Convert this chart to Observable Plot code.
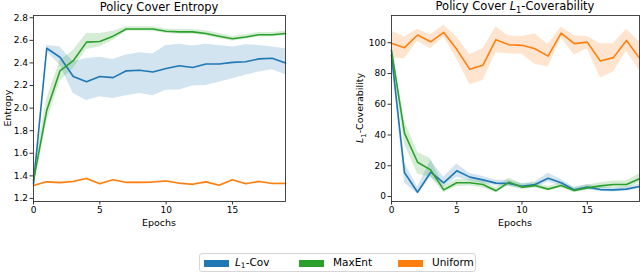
<!DOCTYPE html>
<html>
<head>
<meta charset="utf-8">
<script src="https://cdn.jsdelivr.net/npm/d3@7"></script>
<script src="https://cdn.jsdelivr.net/npm/@observablehq/plot@0.6"></script>
<style>
  html, body { margin: 0; padding: 0; background: #fff; }
  #root { position: relative; width: 640px; height: 275px; font-family: "DejaVu Sans", sans-serif; color: #000; overflow: hidden; }
  .abs { position: absolute; white-space: nowrap; }
  .title { font-size: 11.5px; transform: translate(-50%, -50%); }
  .xlab { font-size: 9.5px; transform: translate(-50%, -50%); }
  .ylab { font-size: 9.5px; transform: translate(-50%, -50%) rotate(-90deg); }
  .sub { font-size: 0.72em; vertical-align: -0.3em; }
  #legend { position: absolute; left: 199px; top: 253px; width: 277px; height: 19px; border: 1px solid #d6d6d6; border-radius: 3px; box-sizing: border-box; font-size: 10.5px; }
  .sw { position: absolute; top: 5.5px; width: 25px; height: 7px; }
  .lt { position: absolute; top: 2px; }
</style>
</head>
<body>
<div id="root"></div>
<script>
// ---------- data ----------
const epochs = [0,1,2,3,4,5,6,7,8,9,10,11,12,13,14,15,16,17,18,19];

// Left panel: Policy Cover Entropy
const entCovMean = [1.33,2.53,2.45,2.28,2.234,2.28,2.27,2.33,2.335,2.32,2.35,2.375,2.36,2.39,2.39,2.405,2.41,2.436,2.442,2.40];
const entCovLo   = [1.31,2.50,2.38,2.13,2.068,2.10,2.085,2.11,2.13,2.11,2.157,2.16,2.195,2.20,2.23,2.26,2.29,2.32,2.34,2.295];
const entCovHi   = [1.35,2.555,2.54,2.41,2.44,2.45,2.43,2.47,2.49,2.48,2.555,2.565,2.55,2.565,2.555,2.54,2.56,2.555,2.54,2.525];

const entMaxMean = [1.36,1.98,2.33,2.42,2.584,2.59,2.637,2.70,2.70,2.70,2.68,2.675,2.675,2.66,2.637,2.614,2.63,2.65,2.65,2.66];
const entMaxLo   = [1.28,1.88,2.24,2.35,2.52,2.54,2.60,2.68,2.68,2.68,2.66,2.655,2.655,2.64,2.615,2.595,2.61,2.63,2.63,2.64];
const entMaxHi   = [1.45,2.08,2.42,2.51,2.66,2.66,2.68,2.72,2.72,2.72,2.70,2.695,2.695,2.685,2.66,2.635,2.65,2.67,2.67,2.68];

const entUniMean = [1.314,1.347,1.34,1.35,1.376,1.33,1.365,1.342,1.342,1.345,1.355,1.335,1.325,1.347,1.317,1.365,1.33,1.35,1.333,1.333];
const entUniLo   = [1.308,1.341,1.334,1.344,1.369,1.324,1.359,1.336,1.336,1.339,1.349,1.329,1.319,1.341,1.311,1.359,1.324,1.344,1.327,1.327];
const entUniHi   = [1.320,1.353,1.346,1.356,1.383,1.336,1.371,1.348,1.348,1.351,1.361,1.341,1.331,1.353,1.323,1.371,1.336,1.356,1.339,1.339];

// Right panel: Policy Cover L1-Coverability
const covCovMean = [92,15.4,2.8,15.8,8.9,16.7,12.6,10.8,8.7,8.5,6.7,7.8,11.9,8.9,4.3,6.1,4.5,4.3,4.8,6.5];
const covCovLo   = [88,9,1.5,12.6,6,12.6,10,8.5,7,6.5,5,6,9.3,7,3,4.5,3.2,3,3.5,5];
const covCovHi   = [96,22,6,23.4,12.6,21.2,15,13,10.5,10.5,8.5,9.5,15.2,11,6,7.8,6,5.6,6.2,8];

const covMaxMean = [95,41,22.3,17.3,4.3,8.9,8.9,7.8,3.7,9.3,6.1,7.1,4.8,7.1,3.9,5.6,6.9,7.8,7.8,11.5];
const covMaxLo   = [90,34,14.7,12.6,2.5,6.5,6.8,5.5,2.5,7,4.5,5.5,3.5,5.5,2.5,4,5,5.5,5.5,8.7];
const covMaxHi   = [98,49,28.8,24.5,6.5,11,11,10,5.5,12,8,9,6.5,9,5.5,7.5,9,10,10,14.7];

const covUniMean = [99.6,96.8,105,100.6,106.7,95.7,82.7,85.3,102,98.7,98.3,96.1,91.3,106.3,99.4,100.4,88.1,90.3,101.5,90];
const covUniLo   = [90,89.6,100.9,96.1,103.7,89.6,72.7,75.5,93.5,92.9,92.5,86,84.2,103,92,96,77,80.9,94.4,82];
const covUniHi   = [107.4,103.7,108.7,105.2,111.3,103.7,92.2,96.1,110.2,104.3,104,105.8,98.7,110.2,104.5,104,99.4,99.4,108.7,100.4];

const xTicks = [0,5,10,15];
const yTicksLeft = [1.2,1.4,1.6,1.8,2.0,2.2,2.4,2.6,2.8];
const yTicksRight = [0,20,40,60,80,100];

const seriesNames = ["L1-Cov","MaxEnt","Uniform"];
const colors = ["#1f77b4","#2ca02c","#ff7f0e"];

// ---------- build tables ----------
function table(groups) {
  const rows = [];
  groups.forEach(([name, mean, lo, hi]) => {
    epochs.forEach((e, i) => rows.push({series: name, epoch: e, mean: mean[i], lo: lo[i], hi: hi[i]}));
  });
  return rows;
}
const leftRows = table([
  ["L1-Cov", entCovMean, entCovLo, entCovHi],
  ["MaxEnt", entMaxMean, entMaxLo, entMaxHi],
  ["Uniform", entUniMean, entUniLo, entUniHi]
]);
const rightRows = table([
  ["L1-Cov", covCovMean, covCovLo, covCovHi],
  ["MaxEnt", covMaxMean, covMaxLo, covMaxHi],
  ["Uniform", covUniMean, covUniLo, covUniHi]
]);

const colorScale = {domain: seriesNames, range: colors};

function panel(rows, opts) {
  return Plot.plot({
    width: opts.width, height: 230,
    marginLeft: opts.marginLeft, marginRight: opts.marginRight,
    marginTop: 15, marginBottom: 29,
    style: {fontFamily: "DejaVu Sans", fontSize: "9px", color: "#000", background: "transparent", overflow: "visible"},
    x: {domain: [0, 19]},
    y: {domain: opts.yDomain},
    color: colorScale,
    marks: [
      Plot.areaY(rows, {x: "epoch", y1: "lo", y2: "hi", fill: "series", fillOpacity: 0.2, z: "series", curve: "linear"}),
      Plot.lineY(rows, {x: "epoch", y: "mean", stroke: "series", z: "series", strokeWidth: 1.6, curve: "linear"}),
      Plot.frame({stroke: "#333", strokeWidth: 0.9}),
      Plot.axisX({ticks: xTicks, tickSize: 3.5, tickPadding: 2, label: null, stroke: "#333"}),
      Plot.axisY({ticks: opts.yTicks, tickFormat: opts.fmt, tickSize: 3.5, tickPadding: 2, label: null, stroke: "#333"})
    ]
  });
}

const root = document.getElementById("root");

const left = panel(leftRows, {width: 300, marginLeft: 33, marginRight: 15, yDomain: [1.173, 2.82], yTicks: yTicksLeft, fmt: d => d.toFixed(1)});
left.style.position = "absolute"; left.style.left = "0px"; left.style.top = "0px";
root.appendChild(left);

const right = panel(rightRows, {width: 320, marginLeft: 71, marginRight: 1, yDomain: [-3.25, 117.7], yTicks: yTicksRight, fmt: d => String(d)});
right.style.position = "absolute"; right.style.left = "320px"; right.style.top = "0px";
root.appendChild(right);

// ---------- text ----------
function addText(html, cls, x, y) {
  const d = document.createElement("div");
  d.className = "abs " + cls;
  d.style.left = x + "px"; d.style.top = y + "px";
  d.innerHTML = html;
  root.appendChild(d);
}
addText("Policy Cover Entropy", "title", 159, 7);
addText('Policy Cover <i>L</i><span class="sub">1</span>-Coverability', "title", 515, 7);
addText("Epochs", "xlab", 159, 222);
addText("Epochs", "xlab", 515, 222);
addText("Entropy", "ylab", 7, 108);
addText('<i>L</i><span class="sub">1</span>-Coverability', "ylab", 361, 108);

// ---------- legend ----------
const legend = document.createElement("div");
legend.id = "legend";
const labelsHtml = ['<i>L</i><span class="sub">1</span>-Cov', "MaxEnt", "Uniform"];
const swX = [4, 99, 198];
const txX = [35, 133, 232];
seriesNames.forEach((s, i) => {
  const sw = document.createElement("div");
  sw.className = "sw"; sw.style.left = swX[i] + "px"; sw.style.background = colors[i];
  legend.appendChild(sw);
  const t = document.createElement("div");
  t.className = "lt"; t.style.left = txX[i] + "px"; t.innerHTML = labelsHtml[i];
  legend.appendChild(t);
});
root.appendChild(legend);
</script>
</body>
</html>
